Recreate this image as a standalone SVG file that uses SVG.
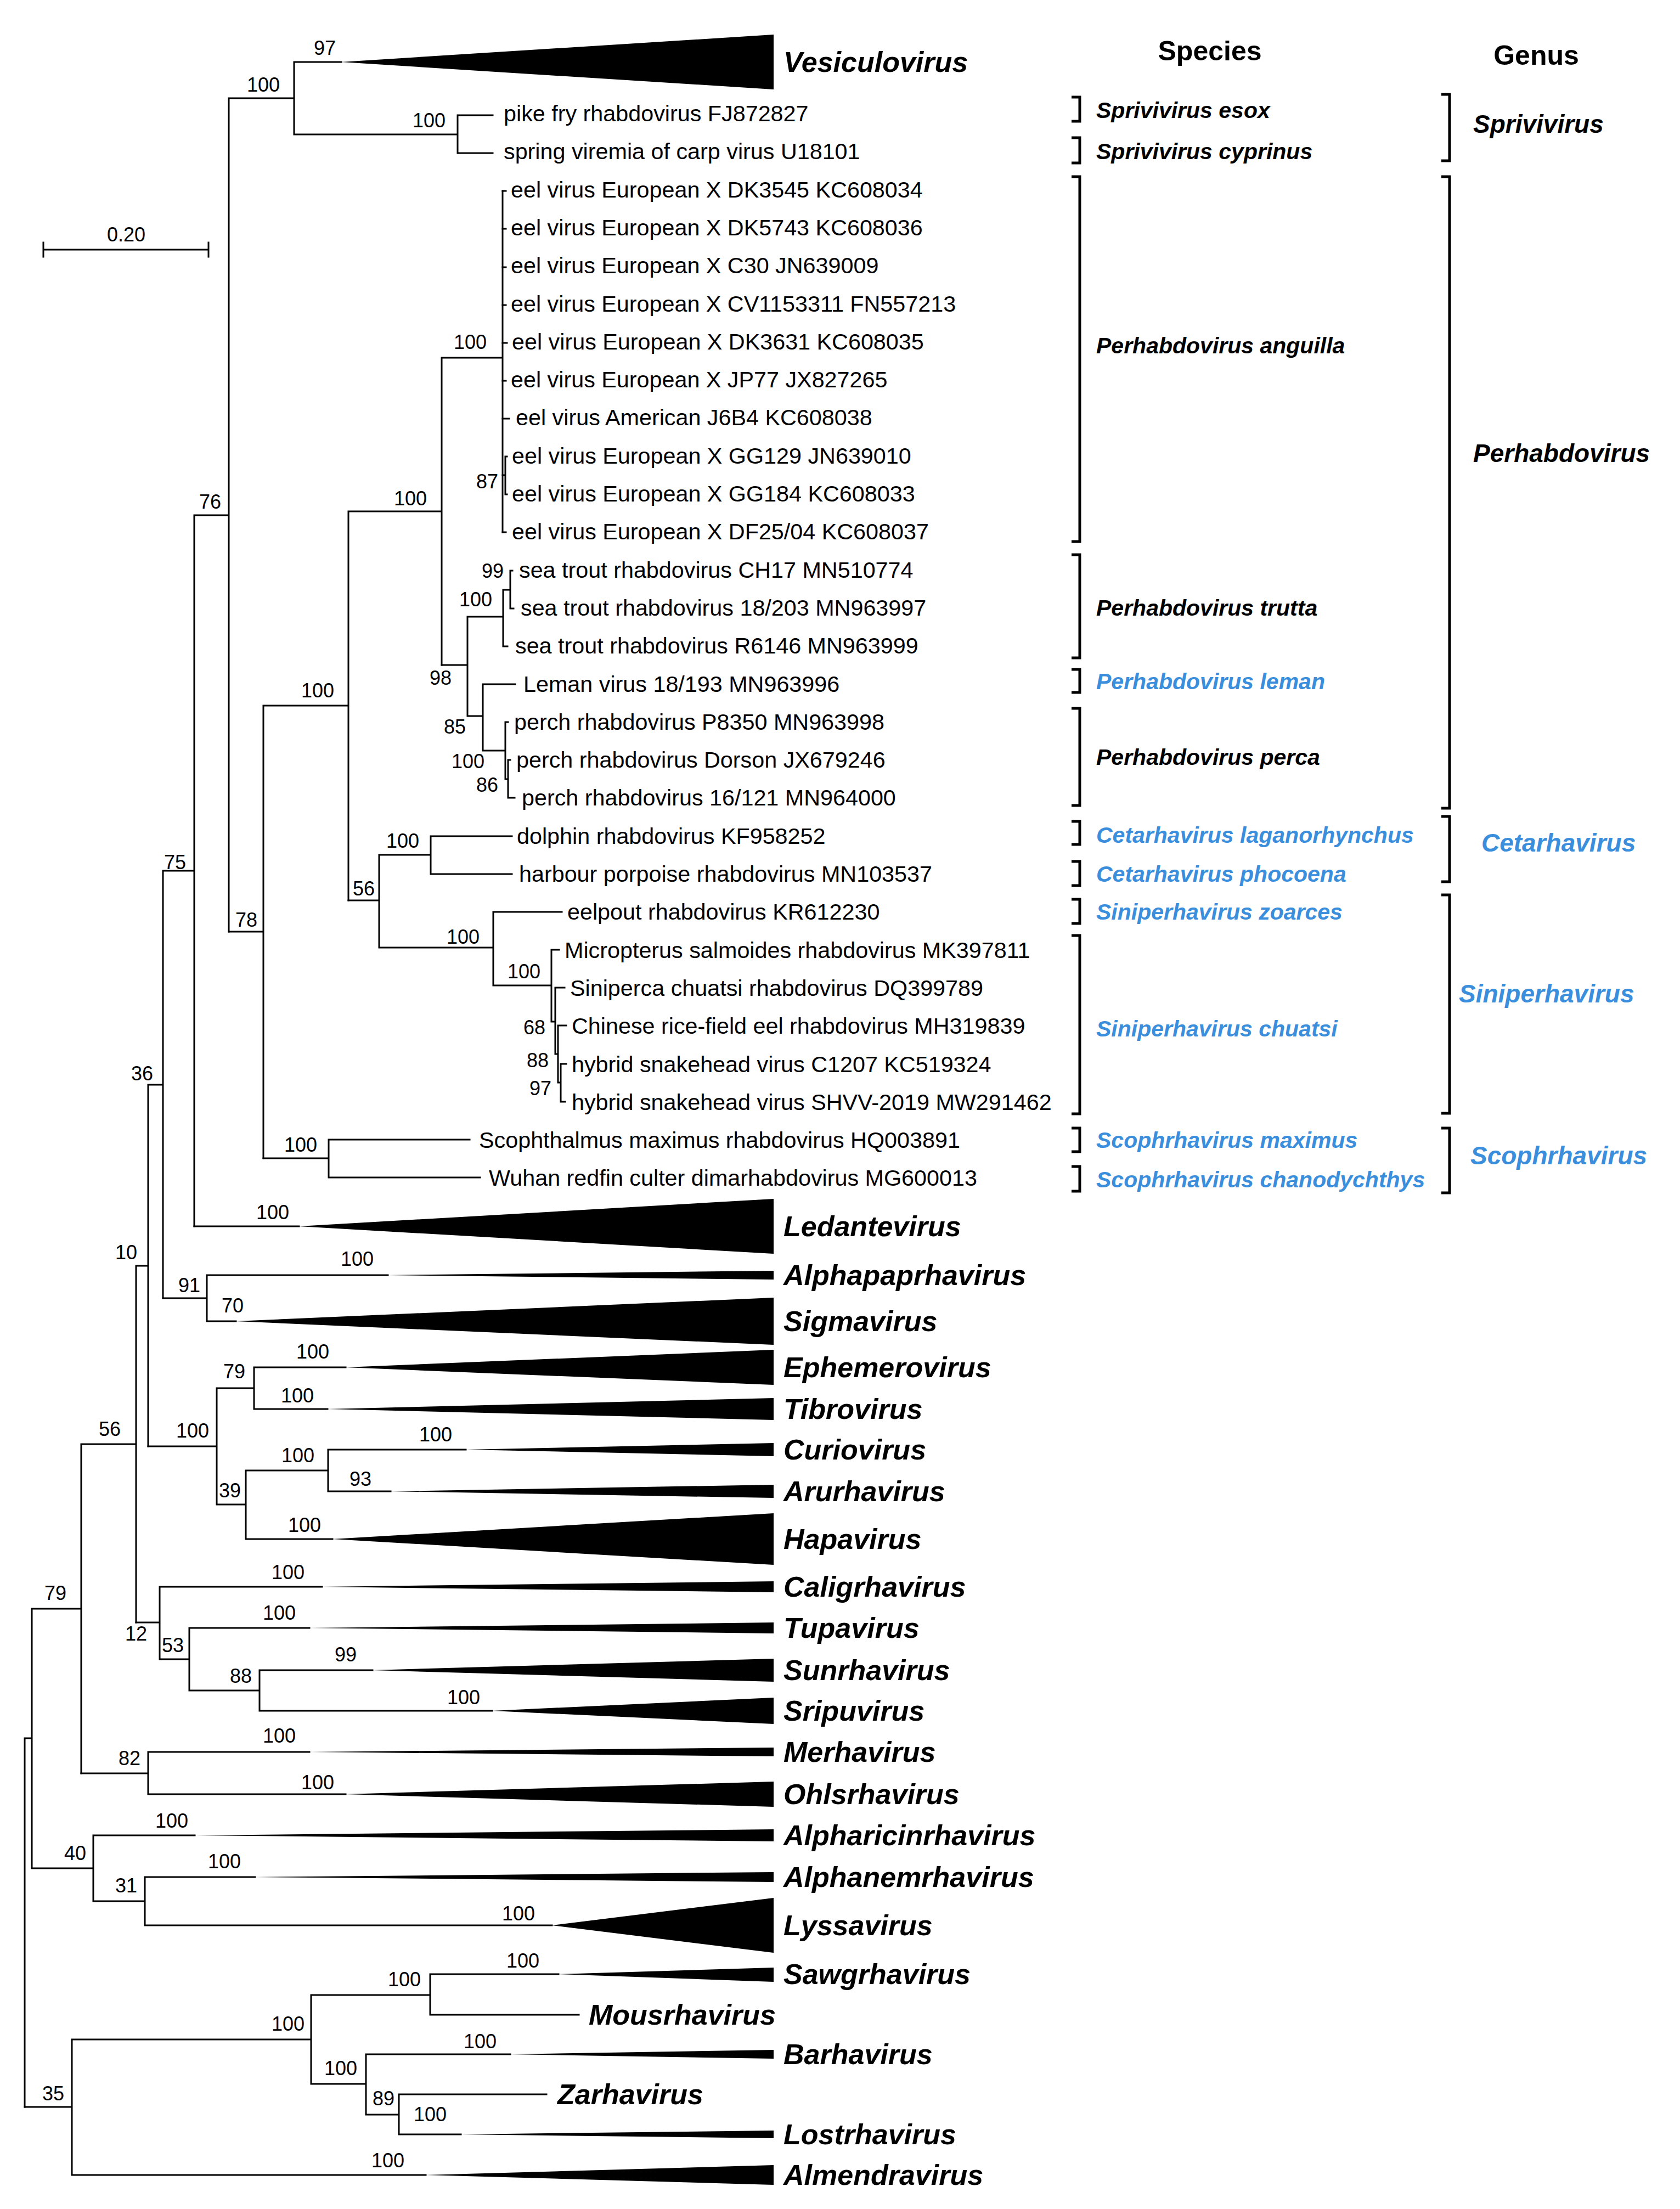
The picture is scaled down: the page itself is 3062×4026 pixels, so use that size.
<svg xmlns="http://www.w3.org/2000/svg" width="3062" height="4026" viewBox="0 0 3062 4026">
<style>
.c{stroke:#000;stroke-width:3;fill:none;stroke-linecap:square}
.bk{stroke:#000;stroke-width:5;fill:none}
.t{fill:#000}
text{font-family:"Liberation Sans",Arial,sans-serif;fill:#000}
.leaf{font-size:41.3px}
.bs{font-size:36px;text-anchor:middle}
.cl{font-size:52px;font-weight:bold;font-style:italic}
.sp{font-size:41px;font-weight:bold;font-style:italic}
.gn{font-size:46px;font-weight:bold;font-style:italic}
.hd{font-size:50px;font-weight:bold;text-anchor:middle}
.blue{fill:#3a8edb}
</style>
<rect width="3062" height="4026" fill="#fff"/>
<g id="connectors">
<path class="c" d="M45 3168V3840M45 3168H58M58 2932V3404M58 2932H148M148 2632V3232M148 2632H248M248 2307V2957M248 2307H270M270 1977V2636M270 1977H297M297 1587V2366M297 1587H354M354 939V2235M354 939H417M417 179V1698M417 179H536M536 113V245M536 113H622M536 245H834M834 210V279M834 210H898M834 279H898"/>
<path class="c" d="M417 1698H480M480 1286V2111M480 1286H635M635 932V1641M635 932H805M805 652V1212M805 652H916M916 348V970"/>
<path class="c" d="M916 348H922M916 417H922M916 487H922M916 556H922M916 625H924M916 694H922M916 763H928M916 970H922M916 866H921M921 832V901M921 832H924M921 901H924"/>
<path class="c" d="M805 1212H852M852 1124V1305M852 1124H917M917 1075V1178M917 1075H930M930 1040V1109M930 1040H934M930 1109H936M917 1178H925M852 1305H880M880 1247V1368M880 1247H939M880 1368H921M921 1316V1420M921 1316H926M921 1420H926M926 1385V1454M926 1385H930M926 1454H938"/>
<path class="c" d="M635 1641H691M691 1558V1727M691 1558H785M785 1524V1593M785 1524H933M785 1593H933M691 1727H899M899 1662V1796M899 1662H1024M899 1796H1005M1005 1731V1862M1005 1731H1019M1005 1862H1012M1012 1800V1921M1012 1800H1029M1012 1921H1017M1017 1869V1973M1017 1869H1032M1017 1973H1022M1022 1939V2008M1022 1939H1032M1022 2008H1030"/>
<path class="c" d="M480 2111H599M599 2077V2146M599 2077H856M599 2146H875M354 2235H545M297 2366H377M377 2324V2408M377 2324H707M377 2408H430"/>
<path class="c" d="M270 2636H395M395 2530V2742M395 2530H463M463 2492V2568M463 2492H630M463 2568H597M395 2742H448M448 2680V2805M448 2680H598M598 2642V2718M598 2642H849M598 2718H712M448 2805H606"/>
<path class="c" d="M248 2957H291M291 2892V3024M291 2892H587M291 3024H345M345 2967V3081M345 2967H564M345 3081H473M473 3044V3118M473 3044H679M473 3118H897M148 3232H270M270 3193V3270M270 3193H564M270 3270H630"/>
<path class="c" d="M58 3405H170M170 3345V3465M170 3345H355M170 3465H264M264 3421V3509M264 3421H465M264 3509H1006M45 3840H131M131 3717V3964M131 3717H567M567 3636V3798M567 3636H784M784 3598V3672M784 3598H1018M784 3672H1055M567 3798H667M667 3744V3854M667 3744H930M667 3854H727M727 3817V3890M727 3817H996M727 3890H840M131 3964H776"/>
</g>
<g id="scalebar">
<path class="c" d="M79 455H380M79 442V468M380 442V468"/>
<text class="bs" x="230" y="440">0.20</text>
</g>
<g id="bootstrap">
<text class="bs" x="592" y="100">97</text>
<text class="bs" x="480" y="167">100</text>
<text class="bs" x="782" y="232">100</text>
<text class="bs" x="857" y="636">100</text>
<text class="bs" x="888" y="890">87</text>
<text class="bs" x="383" y="927">76</text>
<text class="bs" x="748" y="921">100</text>
<text class="bs" x="579" y="1271">100</text>
<text class="bs" x="803" y="1248">98</text>
<text class="bs" x="898" y="1053">99</text>
<text class="bs" x="867" y="1105">100</text>
<text class="bs" x="829" y="1337">85</text>
<text class="bs" x="853" y="1400">100</text>
<text class="bs" x="888" y="1443">86</text>
<text class="bs" x="734" y="1545">100</text>
<text class="bs" x="663" y="1632">56</text>
<text class="bs" x="319" y="1584">75</text>
<text class="bs" x="449" y="1689">78</text>
<text class="bs" x="844" y="1720">100</text>
<text class="bs" x="955" y="1783">100</text>
<text class="bs" x="974" y="1885">68</text>
<text class="bs" x="980" y="1945">88</text>
<text class="bs" x="985" y="1996">97</text>
<text class="bs" x="548" y="2099">100</text>
<text class="bs" x="259" y="1969">36</text>
<text class="bs" x="497" y="2222">100</text>
<text class="bs" x="230" y="2295">10</text>
<text class="bs" x="651" y="2307">100</text>
<text class="bs" x="345" y="2355">91</text>
<text class="bs" x="424" y="2392">70</text>
<text class="bs" x="570" y="2476">100</text>
<text class="bs" x="427" y="2512">79</text>
<text class="bs" x="542" y="2556">100</text>
<text class="bs" x="200" y="2617">56</text>
<text class="bs" x="351" y="2620">100</text>
<text class="bs" x="794" y="2627">100</text>
<text class="bs" x="543" y="2665">100</text>
<text class="bs" x="657" y="2708">93</text>
<text class="bs" x="419" y="2729">39</text>
<text class="bs" x="555" y="2792">100</text>
<text class="bs" x="525" y="2878">100</text>
<text class="bs" x="101" y="2916">79</text>
<text class="bs" x="509" y="2952">100</text>
<text class="bs" x="248" y="2990">12</text>
<text class="bs" x="315" y="3011">53</text>
<text class="bs" x="630" y="3028">99</text>
<text class="bs" x="439" y="3067">88</text>
<text class="bs" x="845" y="3106">100</text>
<text class="bs" x="509" y="3176">100</text>
<text class="bs" x="236" y="3217">82</text>
<text class="bs" x="579" y="3261">100</text>
<text class="bs" x="313" y="3331">100</text>
<text class="bs" x="137" y="3390">40</text>
<text class="bs" x="409" y="3405">100</text>
<text class="bs" x="230" y="3449">31</text>
<text class="bs" x="945" y="3500">100</text>
<text class="bs" x="953" y="3586">100</text>
<text class="bs" x="737" y="3620">100</text>
<text class="bs" x="525" y="3701">100</text>
<text class="bs" x="875" y="3733">100</text>
<text class="bs" x="621" y="3782">100</text>
<text class="bs" x="699" y="3837">89</text>
<text class="bs" x="784" y="3866">100</text>
<text class="bs" x="97" y="3828">35</text>
<text class="bs" x="707" y="3950">100</text>
</g>
<g id="leaves">
<text class="leaf" x="918" y="221">pike fry rhabdovirus FJ872827</text>
<text class="leaf" x="918" y="290">spring viremia of carp virus U18101</text>
<text class="leaf" x="931" y="360">eel virus European X DK3545 KC608034</text>
<text class="leaf" x="931" y="429">eel virus European X DK5743 KC608036</text>
<text class="leaf" x="931" y="498">eel virus European X C30 JN639009</text>
<text class="leaf" x="931" y="568">eel virus European X CV1153311 FN557213</text>
<text class="leaf" x="933" y="637">eel virus European X DK3631 KC608035</text>
<text class="leaf" x="931" y="706">eel virus European X JP77 JX827265</text>
<text class="leaf" x="940" y="775">eel virus American J6B4 KC608038</text>
<text class="leaf" x="933" y="845">eel virus European X GG129 JN639010</text>
<text class="leaf" x="933" y="914">eel virus European X GG184 KC608033</text>
<text class="leaf" x="933" y="983">eel virus European X DF25/04 KC608037</text>
<text class="leaf" x="946" y="1053">sea trout rhabdovirus CH17 MN510774</text>
<text class="leaf" x="949" y="1122">sea trout rhabdovirus 18/203 MN963997</text>
<text class="leaf" x="939" y="1191">sea trout rhabdovirus R6146 MN963999</text>
<text class="leaf" x="954" y="1261">Leman virus 18/193 MN963996</text>
<text class="leaf" x="937" y="1330">perch rhabdovirus P8350 MN963998</text>
<text class="leaf" x="941" y="1399">perch rhabdovirus Dorson JX679246</text>
<text class="leaf" x="951" y="1468">perch rhabdovirus 16/121 MN964000</text>
<text class="leaf" x="942" y="1538">dolphin rhabdovirus KF958252</text>
<text class="leaf" x="946" y="1607">harbour porpoise rhabdovirus MN103537</text>
<text class="leaf" x="1034" y="1676">eelpout rhabdovirus KR612230</text>
<text class="leaf" x="1029" y="1746">Micropterus salmoides rhabdovirus MK397811</text>
<text class="leaf" x="1039" y="1815">Siniperca chuatsi rhabdovirus DQ399789</text>
<text class="leaf" x="1042" y="1884">Chinese rice-field eel rhabdovirus MH319839</text>
<text class="leaf" x="1042" y="1954">hybrid snakehead virus C1207 KC519324</text>
<text class="leaf" x="1042" y="2023">hybrid snakehead virus SHVV-2019 MW291462</text>
<text class="leaf" x="873" y="2092">Scophthalmus maximus rhabdovirus HQ003891</text>
<text class="leaf" x="891" y="2161">Wuhan redfin culter dimarhabdovirus MG600013</text>
</g>
<g id="clade-vesiculovirus"><polygon class="t" points="622,113 1410,63 1410,163"/><text class="cl" x="1428" y="131">Vesiculovirus</text></g>
<g id="clade-ledantevirus"><polygon class="t" points="545,2235 1410,2185 1410,2285"/><text class="cl" x="1428" y="2253">Ledantevirus</text></g>
<g id="clade-alphapaprhavirus"><polygon class="t" points="707,2324 1410,2316 1410,2332"/><text class="cl" x="1428" y="2342">Alphapaprhavirus</text></g>
<g id="clade-sigmavirus"><polygon class="t" points="430,2408 1410,2365 1410,2451"/><text class="cl" x="1428" y="2426">Sigmavirus</text></g>
<g id="clade-ephemerovirus"><polygon class="t" points="630,2492 1410,2460 1410,2524"/><text class="cl" x="1428" y="2510">Ephemerovirus</text></g>
<g id="clade-tibrovirus"><polygon class="t" points="597,2568 1410,2548 1410,2588"/><text class="cl" x="1428" y="2586">Tibrovirus</text></g>
<g id="clade-curiovirus"><polygon class="t" points="849,2642 1410,2630 1410,2654"/><text class="cl" x="1428" y="2660">Curiovirus</text></g>
<g id="clade-arurhavirus"><polygon class="t" points="712,2718 1410,2706 1410,2730"/><text class="cl" x="1428" y="2736">Arurhavirus</text></g>
<g id="clade-hapavirus"><polygon class="t" points="606,2805 1410,2758 1410,2852"/><text class="cl" x="1428" y="2823">Hapavirus</text></g>
<g id="clade-caligrhavirus"><polygon class="t" points="587,2892 1410,2882 1410,2902"/><text class="cl" x="1428" y="2910">Caligrhavirus</text></g>
<g id="clade-tupavirus"><polygon class="t" points="564,2967 1410,2957 1410,2977"/><text class="cl" x="1428" y="2985">Tupavirus</text></g>
<g id="clade-sunrhavirus"><polygon class="t" points="679,3044 1410,3023 1410,3065"/><text class="cl" x="1428" y="3062">Sunrhavirus</text></g>
<g id="clade-sripuvirus"><polygon class="t" points="897,3118 1410,3094 1410,3142"/><text class="cl" x="1428" y="3136">Sripuvirus</text></g>
<g id="clade-merhavirus"><polygon class="t" points="564,3193 1410,3185 1410,3201"/><text class="cl" x="1428" y="3211">Merhavirus</text></g>
<g id="clade-ohlsrhavirus"><polygon class="t" points="630,3270 1410,3247 1410,3293"/><text class="cl" x="1428" y="3288">Ohlsrhavirus</text></g>
<g id="clade-alpharicinrhavirus"><polygon class="t" points="355,3345 1410,3334 1410,3356"/><text class="cl" x="1428" y="3363">Alpharicinrhavirus</text></g>
<g id="clade-alphanemrhavirus"><polygon class="t" points="465,3421 1410,3412 1410,3430"/><text class="cl" x="1428" y="3439">Alphanemrhavirus</text></g>
<g id="clade-lyssavirus"><polygon class="t" points="1006,3509 1410,3459 1410,3559"/><text class="cl" x="1428" y="3527">Lyssavirus</text></g>
<g id="clade-sawgrhavirus"><polygon class="t" points="1018,3598 1410,3586 1410,3612"/><text class="cl" x="1428" y="3616">Sawgrhavirus</text></g>
<g id="clade-mousrhavirus"><text class="cl" x="1073" y="3690">Mousrhavirus</text></g>
<g id="clade-barhavirus"><polygon class="t" points="930,3744 1410,3736 1410,3752"/><text class="cl" x="1428" y="3762">Barhavirus</text></g>
<g id="clade-zarhavirus"><text class="cl" x="1016" y="3835">Zarhavirus</text></g>
<g id="clade-lostrhavirus"><polygon class="t" points="840,3890 1410,3883 1410,3897"/><text class="cl" x="1428" y="3908">Lostrhavirus</text></g>
<g id="clade-almendravirus"><polygon class="t" points="776,3964 1410,3946 1410,3982"/><text class="cl" x="1428" y="3982">Almendravirus</text></g>
<g id="headers">
<text class="hd" x="2205" y="110">Species</text>
<text class="hd" x="2800" y="118">Genus</text>
</g>
<g id="species">
<path class="bk" d="M1953 177H1968V221H1953M1953 251H1968V297H1953M1953 322H1968V987H1953M1953 1011H1968V1199H1953M1953 1220H1968V1262H1953M1953 1291H1968V1468H1953M1953 1497H1968V1539H1953M1953 1570H1968V1614H1953M1953 1639H1968V1683H1953M1953 1705H1968V2030H1953M1953 2056H1968V2099H1953M1953 2126H1968V2171H1953"/>
<text class="sp" x="1998" y="215">Sprivivirus esox</text>
<text class="sp" x="1998" y="290">Sprivivirus cyprinus</text>
<text class="sp" x="1998" y="644">Perhabdovirus anguilla</text>
<text class="sp" x="1998" y="1122">Perhabdovirus trutta</text>
<text class="sp blue" x="1998" y="1256">Perhabdovirus leman</text>
<text class="sp" x="1998" y="1394">Perhabdovirus perca</text>
<text class="sp blue" x="1998" y="1536">Cetarhavirus laganorhynchus</text>
<text class="sp blue" x="1998" y="1607">Cetarhavirus phocoena</text>
<text class="sp blue" x="1998" y="1676">Siniperhavirus zoarces</text>
<text class="sp blue" x="1998" y="1889">Siniperhavirus chuatsi</text>
<text class="sp blue" x="1998" y="2092">Scophrhavirus maximus</text>
<text class="sp blue" x="1998" y="2164">Scophrhavirus chanodychthys</text>
</g>
<g id="genera">
<path class="bk" d="M2627 172H2642V293H2627M2627 322H2642V1473H2627M2627 1488H2642V1607H2627M2627 1631H2642V2029H2627M2627 2056H2642V2174H2627"/>
<text class="gn" x="2685" y="242">Sprivivirus</text>
<text class="gn" x="2685" y="842">Perhabdovirus</text>
<text class="gn blue" x="2700" y="1552">Cetarhavirus</text>
<text class="gn blue" x="2659" y="1827">Siniperhavirus</text>
<text class="gn blue" x="2680" y="2122">Scophrhavirus</text>
</g>
</svg>
